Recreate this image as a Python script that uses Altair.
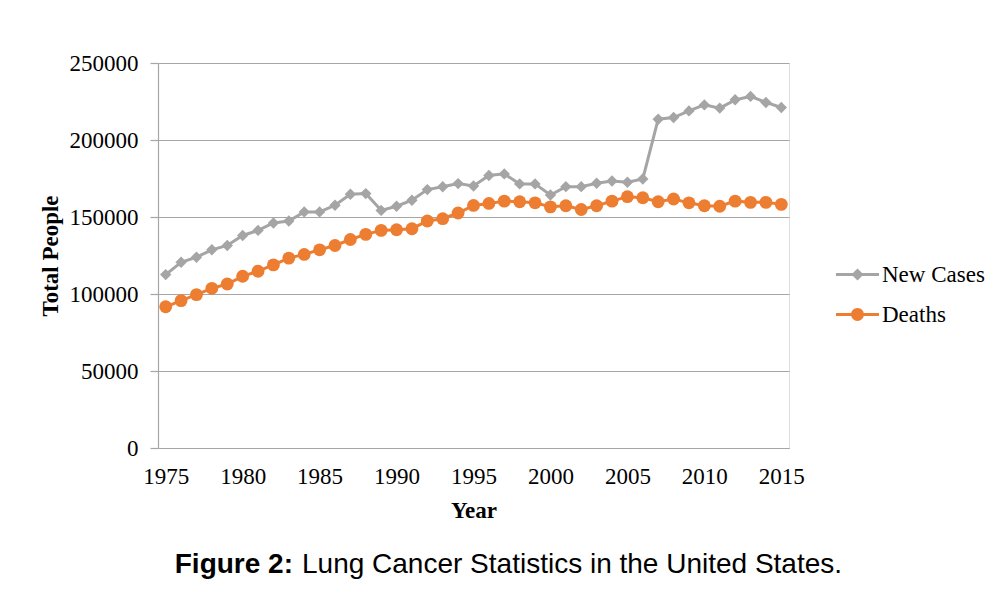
import altair as alt
import pandas as pd

years = list(range(1975, 2016))
new_cases = [112600, 120600, 123900, 128700, 131500, 138000, 141300, 146100, 147400, 153300,
             153300, 157600, 164800, 165200, 154300, 157000, 160900, 167800, 169600, 171700,
             170100, 176900, 178000, 171500, 171500, 164300, 169700, 169700, 171900, 173400,
             172600, 174700, 213500, 214600, 218900, 222800, 220700, 226100, 228300, 224400,
             221100]
deaths = [91700, 95700, 99600, 103700, 106500, 111500, 114800, 118900, 123300, 125700,
          128700, 131500, 135400, 138700, 141300, 141700, 142400, 147400, 148900, 152600,
          157500, 158800, 160300, 159900, 159200, 156600, 157300, 154900, 157300, 160300,
          163200, 162500, 159900, 161700, 159200, 157300, 157000, 160300, 159500, 159500,
          158200]
series_names = ["New Cases", "Deaths"]
series_colors = ["#a5a5a5", "#ed7d31"]
y_ticks = [0, 50000, 100000, 150000, 200000, 250000]
x_ticks = [1975, 1980, 1985, 1990, 1995, 2000, 2005, 2010, 2015]

df = pd.DataFrame({
    "Year": years * 2,
    "value": new_cases + deaths,
    "series": ["New Cases"] * len(years) + ["Deaths"] * len(years),
})
legend_df = pd.DataFrame({"series": series_names})

SERIF = "Liberation Serif"
GRID = "#a6a6a6"
FS = 23

x_enc = alt.X("Year:Q", scale=alt.Scale(domain=[1974.5, 2015.5], nice=False, zero=False),
              axis=alt.Axis(values=x_ticks, format="d", title="Year", grid=False, ticks=False,
                            tickSize=0, labelPadding=17, labelFontSize=FS, labelFont=SERIF,
                            labelColor="black", domainColor=GRID, domainWidth=1.2,
                            titleFont=SERIF, titleFontSize=FS, titleFontWeight="bold",
                            titleColor="black", titleX=315.5, titleY=69,
                            titleBaseline="alphabetic", titleAlign="center",
                            labelFlush=False, labelOverlap=False))
y_enc = alt.Y("value:Q", scale=alt.Scale(domain=[0, 250000], nice=False),
              axis=alt.Axis(values=y_ticks, format="d", title="Total People", grid=True,
                            gridColor=GRID, gridWidth=1.2, tickColor=GRID, tickSize=8,
                            tickWidth=1.2, domainColor=GRID, domainWidth=1.2,
                            labelPadding=12, labelFontSize=FS, labelFont=SERIF,
                            labelColor="black", titleFont=SERIF, titleFontSize=FS,
                            titleFontWeight="bold", titleColor="black", titleX=-108,
                            titleY=192.5, titleAlign="center", titleBaseline="middle",
                            titleAngle=-90))

color_scale = alt.Scale(domain=series_names, range=series_colors)

base = alt.Chart(df)

lines = base.mark_line(strokeWidth=3).encode(
    x=x_enc, y=y_enc,
    color=alt.Color("series:N", scale=color_scale, legend=None),
    detail="series:N",
)

pts_cases = base.transform_filter(alt.datum.series == "New Cases").mark_point(
    shape="diamond", filled=True, size=130, opacity=1, strokeWidth=0
).encode(x=x_enc, y=y_enc, color=alt.Color("series:N", scale=color_scale, legend=None))

pts_deaths = base.transform_filter(alt.datum.series == "Deaths").mark_point(
    shape="circle", filled=True, size=165, opacity=1, strokeWidth=0
).encode(x=x_enc, y=y_enc, color=alt.Color("series:N", scale=color_scale, legend=None))

path_cases = "M-2,-0.14L2,-0.14L2,0.14L-2,0.14Z M0,-0.56L0.56,0L0,0.56L-0.56,0Z"
path_deaths = "M-2,-0.14L2,-0.14L2,0.14L-2,0.14Z M-0.6,0A0.6,0.6 0 1,1 0.6,0A0.6,0.6 0 1,1 -0.6,0Z"

leg = alt.Legend(title=None, orient="none", legendX=688, legendY=200,
                 symbolSize=462, symbolStrokeWidth=0, symbolOpacity=1,
                 labelFont=SERIF, labelFontSize=FS, labelColor="black",
                 labelOffset=13, rowPadding=16, padding=0)

legend_layer = alt.Chart(legend_df).mark_point(
    filled=True, size=462, opacity=0, strokeWidth=0
).encode(
    fill=alt.Fill("series:N", scale=alt.Scale(domain=series_names, range=series_colors),
                  legend=leg),
    shape=alt.Shape("series:N", scale=alt.Scale(domain=series_names,
                                                range=[path_cases, path_deaths]),
                    legend=leg),
    x=alt.value(-500), y=alt.value(-500),
)

cap_bold = alt.Chart(pd.DataFrame({"t": ["Figure 2:"]})).mark_text(
    font="Liberation Sans", fontSize=28, fontWeight="bold", align="right",
    baseline="alphabetic", color="black"
).encode(text="t:N", x=alt.value(135), y=alt.value(510))

cap_norm = alt.Chart(pd.DataFrame({"t": ["Lung Cancer Statistics in the United States."]})).mark_text(
    font="Liberation Sans", fontSize=28, fontWeight="normal", align="left",
    baseline="alphabetic", color="black"
).encode(text="t:N", x=alt.value(144), y=alt.value(510))

chart = alt.layer(lines, pts_cases, pts_deaths, legend_layer, cap_bold, cap_norm).properties(
    width=631, height=385,
    autosize=alt.AutoSizeParams(type="none"),
    padding={"left": 150, "top": 55, "right": 208, "bottom": 145},
).resolve_legend(fill="independent", shape="independent").configure_view(stroke=None).configure(background="white")

chart.save("out.html", embed_options={"renderer": "svg", "actions": False})
